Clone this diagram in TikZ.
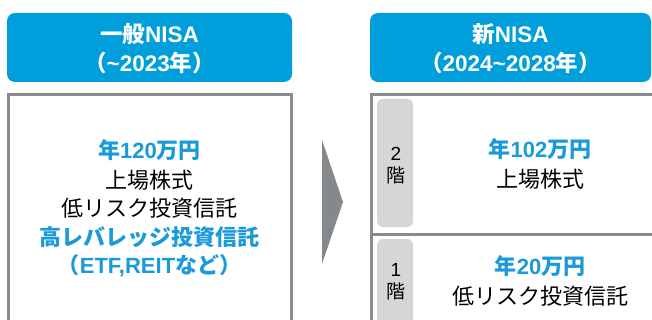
\documentclass[tikz,border=0pt]{standalone}
\usepackage{fontspec}
\setmainfont{Noto Sans CJK JP}
\newfontfamily\lat{Liberation Sans}
\definecolor{hdrblue}{HTML}{009EDB}
\definecolor{txtblue}{HTML}{1A9AD8}
\definecolor{bordergray}{HTML}{898B8D}
\definecolor{arrowgray}{HTML}{86898C}
\definecolor{tabgray}{HTML}{D6D6D6}
\newcommand{\tld}{\char"7E\relax}
\tikzset{
  hdr/.style={fill=hdrblue, rounded corners=8pt, draw=none},
  hdrtext/.style={text=white, font=\fontsize{22.5}{29}\selectfont\bfseries, inner sep=0pt, anchor=center},
  panel/.style={draw=bordergray, line width=3pt, fill=white},
  tab/.style={fill=tabgray, rounded corners=6pt, draw=none},
  bluetxt/.style={text=txtblue, font=\fontsize{22}{29}\selectfont\bfseries, inner sep=0pt, anchor=center},
  blacktxt/.style={text=black, font=\fontsize{22}{29}\selectfont, inner sep=0pt, anchor=center},
  tabtxt/.style={text=black, font=\fontsize{19}{22}\selectfont, inner sep=0pt, anchor=center, align=center},
}
\begin{document}
\begin{tikzpicture}[x=1pt, y=-1pt]
\useasboundingbox (0,0) rectangle (652,320);
\clip (0,0) rectangle (652,320);
% headers
\fill[hdr] (7,13) rectangle (292,82);
\fill[hdr] (370,13) rectangle (651,82);
\node[hdrtext] (h1a) at (149.5,34) {一般{\lat NISA}};
\node[hdrtext] (h1b) at (149.5,63) {（{\lat \tld2023}年）};
\node[hdrtext] (h2a) at (510.5,34) {新{\lat NISA}};
\node[hdrtext] (h2b) at (510.5,63) {（{\lat 2024\tld2028}年）};
% panels
\draw[panel] (8.5,94.5) rectangle (291.5,340);
\draw[panel] (371.5,94.5) rectangle (670,340);
\draw[draw=bordergray, line width=3pt] (371.5,234) -- (660,234);
% arrow
\fill[arrowgray] (322,140) -- (343,202) -- (322,264) -- cycle;
% tabs
\fill[tab] (377,99) rectangle (413,227);
\fill[tab] (377,239) rectangle (413,340);
\node[tabtxt] (t2) at (396,165.5) {{\lat 2}\\階};
\node[tabtxt] (t1) at (396,282) {{\lat 1}\\階};
% left texts
\node[bluetxt] (l1) at (149.5,150) {年{\lat 120}万円};
\node[blacktxt] (l2) at (149.5,180) {上場株式};
\node[blacktxt] (l3) at (149.5,208) {低リスク投資信託};
\node[bluetxt] (l4) at (149.5,237) {高レバレッジ投資信託};
\node[bluetxt] (l5) at (149.5,266) {（{\lat ETF,REIT}など）};
% right texts
\node[bluetxt] (r1) at (540,149) {年{\lat 102}万円};
\node[blacktxt] (r2) at (540,179) {上場株式};
\node[bluetxt] (r3) at (540,266) {年{\lat 20}万円};
\node[blacktxt] (r4) at (540,296) {低リスク投資信託};
\end{tikzpicture}
\end{document}
